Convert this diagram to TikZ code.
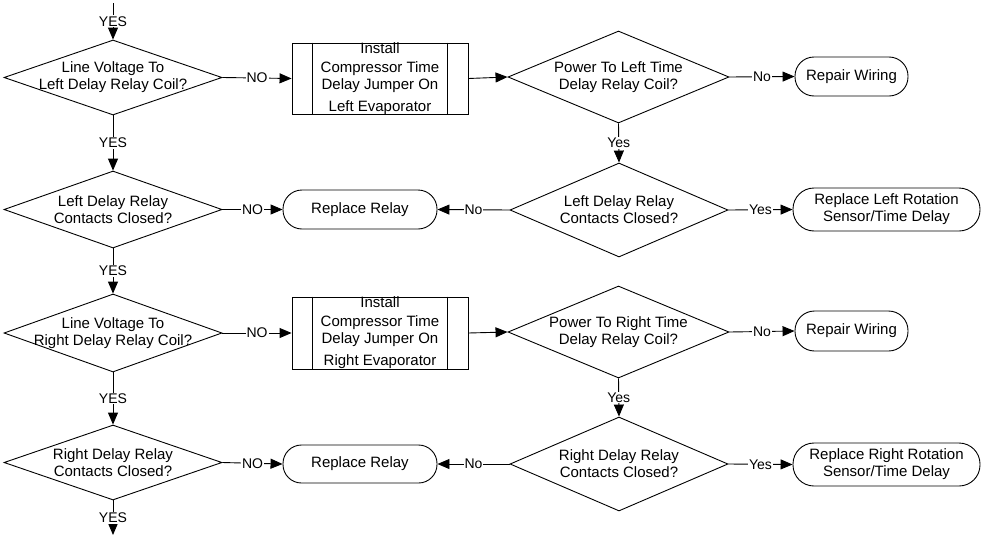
\documentclass[tikz,border=0pt]{standalone}
\usepackage{fontspec}
\setmainfont{Liberation Sans}
\usetikzlibrary{shapes.geometric,arrows.meta}
\begin{document}
\begin{tikzpicture}[x=1pt,y=-1pt,
  base/.style={draw, line width=0.9pt, inner sep=0pt},
  dia/.style={base, shape=diamond},
  dtext/.style={align=center, font=\fontsize{15pt}{17pt}\selectfont, inner sep=0pt},
  procbox/.style={base, rectangle},
  term/.style={base, rectangle, align=center, font=\fontsize{15pt}{17pt}\selectfont},
  lab/.style={font=\fontsize{14pt}{16pt}\selectfont, fill=white, inner sep=1pt},
  conn/.style={draw, line width=0.9pt, -{Triangle[length=12pt,width=10pt]}}
]
\useasboundingbox (0,0) rectangle (984,538);

% Row 1
\node[dia, minimum width=218pt, minimum height=75pt,
  label={[dtext]center:{Line Voltage To\\Left Delay Relay Coil?}}] (d1) at (113,77.5) {};
\node[procbox, minimum width=176pt, minimum height=71pt,
  label={[dtext]center:{Install\\[2pt]Compressor Time\\Delay Jumper On\\[5pt]Left Evaporator}}] (b1) at (380,78.5) {};
\node[dia, minimum width=221pt, minimum height=92pt,
  label={[dtext]center:{Power To Left Time\\Delay Relay Coil?}}] (d2) at (618.5,77) {};
\node[term, minimum width=113pt, minimum height=39pt, rounded corners=19pt] (t1) at (851.5,76.5) {Repair Wiring};

% Row 2
\node[dia, minimum width=218pt, minimum height=77pt,
  label={[dtext]center:{Left Delay Relay\\Contacts Closed?}}] (d3) at (113,209.5) {};
\node[term, minimum width=154pt, minimum height=39pt, rounded corners=19pt] (t2) at (360,209.5) {Replace Relay};
\node[dia, minimum width=218pt, minimum height=94pt,
  label={[dtext]center:{Left Delay Relay\\Contacts Closed?}}] (d4) at (619,210) {};
\node[term, minimum width=187pt, minimum height=43pt, rounded corners=21pt] (t3) at (886.5,209.5) {Replace Left Rotation\\Sensor/Time Delay};

% Row 3
\node[dia, minimum width=218pt, minimum height=78pt,
  label={[dtext]center:{Line Voltage To\\Right Delay Relay Coil?}}] (d5) at (113,333) {};
\node[procbox, minimum width=176pt, minimum height=72pt,
  label={[dtext]center:{Install\\[2pt]Compressor Time\\Delay Jumper On\\[5pt]Right Evaporator}}] (b2) at (380,333) {};
\node[dia, minimum width=221pt, minimum height=92pt,
  label={[dtext]center:{Power To Right Time\\Delay Relay Coil?}}] (d6) at (618.5,332) {};
\node[term, minimum width=113pt, minimum height=40pt, rounded corners=19.5pt] (t4) at (851.5,331) {Repair Wiring};

% Row 4
\node[dia, minimum width=218pt, minimum height=75pt,
  label={[dtext]center:{Right Delay Relay\\Contacts Closed?}}] (d7) at (113,462.5) {};
\node[term, minimum width=154pt, minimum height=38pt, rounded corners=18.5pt] (t5) at (360,464) {Replace Relay};
\node[dia, minimum width=218pt, minimum height=94pt,
  label={[dtext]center:{Right Delay Relay\\Contacts Closed?}}] (d8) at (619,464) {};
\node[term, minimum width=187pt, minimum height=43pt, rounded corners=21pt] (t6) at (886.5,464.5) {Replace Right Rotation\\Sensor/Time Delay};

% inner lines of the process boxes
\foreach \b in {b1,b2}{
  \draw[line width=0.9pt] ([xshift=21pt]\b.north west) -- ([xshift=21pt]\b.south west);
  \draw[line width=0.9pt] ([xshift=-21pt]\b.north east) -- ([xshift=-21pt]\b.south east);
}

\coordinate (top) at (113,3);
\coordinate (bot) at (113,535);

% vertical connectors
\path[conn] (top) -- node[lab]{YES} (d1.north);
\path[conn] (d1.south) -- node[lab]{YES} (d3.north);
\path[conn] (d3.south) -- node[lab]{YES} (d5.north);
\path[conn] (d5.south) -- node[lab]{YES} (d7.north);
\path[conn] (d7.south) -- node[lab]{YES} (bot);
\path[conn] (d2.south) -- node[lab]{Yes} (d4.north);
\path[conn] (d6.south) -- node[lab]{Yes} (d8.north);

% horizontal connectors
\path[conn] (d1.east) -- node[lab]{NO} (b1.west);
\path[conn] (b1.east) -- (d2.west);
\path[conn] (d2.east) -- node[lab]{No} (t1.west);
\path[conn] (d3.east) -- node[lab]{NO} (t2.west);
\path[conn] (d4.west) -- node[lab]{No} (t2.east);
\path[conn] (d4.east) -- node[lab]{Yes} (t3.west);

\path[conn] (d5.east) -- node[lab]{NO} (b2.west);
\path[conn] (b2.east) -- (d6.west);
\path[conn] (d6.east) -- node[lab]{No} (t4.west);
\path[conn] (d7.east) -- node[lab]{NO} (t5.west);
\path[conn] (d8.west) -- node[lab]{No} (t5.east);
\path[conn] (d8.east) -- node[lab]{Yes} (t6.west);
\end{tikzpicture}
\end{document}
